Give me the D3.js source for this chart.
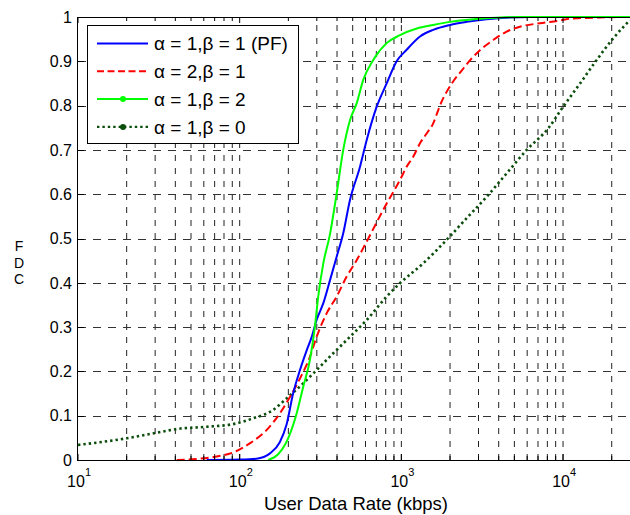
<!DOCTYPE html>
<html><head><meta charset="utf-8">
<script src="https://cdn.jsdelivr.net/npm/d3@7/dist/d3.min.js"></script>
<style>
body{margin:0;background:#fff}
svg{display:block}
text{font-family:Arial,"Liberation Sans",Helvetica,sans-serif;fill:#000}
</style>
</head><body>
<svg id="chart" width="630" height="515"></svg>
<script>
// ---- data ----
const seriesNames = ["α = 1,β = 1 (PF)", "α = 2,β = 1", "α = 1,β = 2", "α = 1,β = 0"];

const pfRate = [62.5, 100, 127, 154, 177, 195, 214, 236, 260, 279, 299, 329, 362, 398, 437, 481, 555, 610, 703, 811, 935, 1078, 1304, 1574, 2000, 2535, 3367, 4700, 6240, 26000];
const pfCdf  = [0, 0.001, 0.003, 0.015, 0.04, 0.08, 0.15, 0.203, 0.248, 0.278, 0.316, 0.354, 0.406, 0.459, 0.512, 0.587, 0.662, 0.722, 0.797, 0.850, 0.900, 0.926, 0.956, 0.971, 0.982, 0.989, 0.995, 0.999, 1, 1];

const a2b1Rate = [40.8, 56.8, 72, 91.3, 116, 147, 177, 205, 236, 272, 299, 345, 398, 459, 529, 610, 811, 980, 1078, 1186, 1304, 1433, 1574, 1691, 1774, 1906, 2096, 2361, 2656, 3062, 3700, 4478, 5410, 7190, 9570, 11040, 16900, 26000];
const a2b1Cdf  = [0, 0.003, 0.008, 0.017, 0.038, 0.068, 0.105, 0.143, 0.184, 0.233, 0.278, 0.331, 0.369, 0.414, 0.451, 0.493, 0.579, 0.632, 0.662, 0.685, 0.715, 0.737, 0.760, 0.790, 0.809, 0.831, 0.855, 0.879, 0.902, 0.925, 0.948, 0.967, 0.978, 0.986, 0.992, 0.996, 0.999, 1];

const a1b2Rate = [150, 173, 191, 200, 225, 247, 272, 292, 306, 329, 362, 398, 437, 481, 529, 581, 670, 811, 980, 1245, 1574, 2000, 2785, 4073, 5420, 26000];
const a1b2Cdf  = [0, 0.013, 0.035, 0.05, 0.105, 0.165, 0.226, 0.301, 0.369, 0.444, 0.51, 0.602, 0.700, 0.767, 0.805, 0.858, 0.903, 0.941, 0.959, 0.974, 0.982, 0.989, 0.995, 0.999, 1, 1];

const a1b0Rate = [10, 20, 29, 43, 62.5, 91, 121, 161, 195, 247, 299, 379, 481, 610, 811, 980, 1365, 1906, 2535, 3367, 4478, 5960, 8110, 10000, 12740, 16150, 20460, 25900];
const a1b0Cdf  = [0.034, 0.049, 0.060, 0.071, 0.075, 0.081, 0.094, 0.113, 0.139, 0.173, 0.203, 0.241, 0.278, 0.316, 0.369, 0.399, 0.444, 0.497, 0.546, 0.594, 0.647, 0.700, 0.749, 0.797, 0.850, 0.903, 0.952, 0.993];

const yTickValues = [0, 0.1, 0.2, 0.3, 0.4, 0.5, 0.6, 0.7, 0.8, 0.9, 1];
const yTickLabels = ["0", "0.1", "0.2", "0.3", "0.4", "0.5", "0.6", "0.7", "0.8", "0.9", "1"];
const xMajorTicks = [10, 100, 1000, 10000];
const xTickExponents = ["1", "2", "3", "4"];
const xLabel = "User Data Rate (kbps)";
const yLabelLetters = ["F", "D", "C"];

// ---- layout ----
const L = 78, R = 630, T = 17, B = 460;
const xMax = 25950;
const svg = d3.select("#chart");
const x = d3.scaleLog().domain([10, xMax]).range([L, R]);
const y = d3.scaleLinear().domain([0, 1]).range([B, T]);

// minor tick values
const minorVals = [];
xMajorTicks.forEach(d => { for (let k = 1; k <= 9; k++) { const v = k * d; if (v > 10 && v < xMax) minorVals.push(v); } });

// grid
const grid = svg.append("g");
grid.selectAll("line.vg").data(minorVals).join("line")
  .attr("x1", d => x(d)).attr("x2", d => x(d)).attr("y1", B).attr("y2", T)
  .attr("stroke", "#222").attr("stroke-width", 1).attr("stroke-dasharray", "6,7");
grid.selectAll("line.hg").data(yTickValues.filter(v => v > 0 && v < 1)).join("line")
  .attr("x1", L).attr("x2", R).attr("y1", d => Math.round(y(d)) + 0.5).attr("y2", d => Math.round(y(d)) + 0.5)
  .attr("stroke", "#333").attr("stroke-width", 1).attr("stroke-dasharray", "8,7");

// curves
svg.append("clipPath").attr("id", "pc").append("rect")
  .attr("x", L).attr("y", T - 2).attr("width", R - L).attr("height", B - T + 2);
const line = d3.line().x(d => x(d[0])).y(d => y(d[1])).curve(d3.curveMonotoneX);
const zipS = (a, b) => a.map((v, i) => [v, b[i]]);
const series = [
  {data: zipS(a1b0Rate, a1b0Cdf), color: "#0b4d0b", width: 2.6, dash: "2.4,3"},
  {data: zipS(a2b1Rate, a2b1Cdf), color: "#ff0000", width: 2, dash: "8,4"},
  {data: zipS(pfRate, pfCdf), color: "#0000ff", width: 2, dash: null},
  {data: zipS(a1b2Rate, a1b2Cdf), color: "#00ff00", width: 2, dash: null}
];
const cg = svg.append("g").attr("clip-path", "url(#pc)");
series.forEach(s => {
  cg.append("path").attr("d", line(s.data)).attr("fill", "none")
    .attr("stroke", s.color).attr("stroke-width", s.width)
    .attr("stroke-dasharray", s.dash);
});

// axes lines
const ax = svg.append("g");
ax.append("line").attr("x1", L - 0.5).attr("x2", R).attr("y1", B + 0.5).attr("y2", B + 0.5).attr("stroke", "#000");
ax.append("line").attr("x1", L - 0.5).attr("x2", R).attr("y1", T + 0.5).attr("y2", T + 0.5).attr("stroke", "#000");
ax.append("line").attr("x1", L - 0.5).attr("x2", L - 0.5).attr("y1", T).attr("y2", B + 1).attr("stroke", "#000");

// x ticks (bottom and top, inward)
const allX = minorVals.concat([10]);
ax.selectAll("line.bt").data(allX).join("line")
  .attr("x1", d => x(d)).attr("x2", d => x(d)).attr("y1", B).attr("y2", d => xMajorTicks.includes(d) ? B - 6 : B - 4)
  .attr("stroke", "#000");
ax.selectAll("line.tt").data(allX).join("line")
  .attr("x1", d => x(d)).attr("x2", d => x(d)).attr("y1", T).attr("y2", d => xMajorTicks.includes(d) ? T + 6 : T + 4)
  .attr("stroke", "#000");
// y ticks
ax.selectAll("line.yt").data(yTickValues).join("line")
  .attr("x1", L).attr("x2", L + 6).attr("y1", d => Math.round(y(d)) + 0.5).attr("y2", d => Math.round(y(d)) + 0.5)
  .attr("stroke", "#000");

// y tick labels
svg.append("g").selectAll("text").data(yTickValues).join("text")
  .attr("x", 72).attr("y", d => y(d)).attr("dy", "0.36em")
  .attr("text-anchor", "end").attr("font-size", 16)
  .text((d, i) => yTickLabels[i]);

// x tick labels: 10 with superscript
const xl = svg.append("g");
xMajorTicks.forEach((v, i) => {
  xl.append("text").attr("x", x(v) - 2).attr("y", 487).attr("text-anchor", "middle").attr("font-size", 16).text("10");
  xl.append("text").attr("x", x(v) + 7).attr("y", 476).attr("font-size", 11).text(xTickExponents[i]);
});

// axis labels
svg.append("text").attr("x", 356).attr("y", 510).attr("text-anchor", "middle").attr("font-size", 18.5).text(xLabel);
const yl = svg.append("text").attr("text-anchor", "middle").attr("font-size", 14);
yLabelLetters.forEach((c, i) => {
  yl.append("tspan").attr("x", 19).attr("y", 251 + i * 16.5).text(c);
});

// legend
const lg = svg.append("g");
lg.append("rect").attr("x", 87.5).attr("y", 25.5).attr("width", 211).attr("height", 118)
  .attr("fill", "#fff").attr("stroke", "#000").attr("stroke-width", 1);
const legendOrder = [
  {name: seriesNames[0], color: "#0000ff", width: 2, dash: null, marker: false},
  {name: seriesNames[1], color: "#ff0000", width: 2, dash: "7,3.5", marker: false},
  {name: seriesNames[2], color: "#00ff00", width: 2, dash: null, marker: true},
  {name: seriesNames[3], color: "#0b4d0b", width: 2.4, dash: "2.4,3", marker: true}
];
legendOrder.forEach((s, i) => {
  const cy = 43.5 + i * 27.8;
  lg.append("line").attr("x1", 97).attr("x2", 148).attr("y1", cy).attr("y2", cy)
    .attr("stroke", s.color).attr("stroke-width", s.width).attr("stroke-dasharray", s.dash);
  if (s.marker) lg.append("circle").attr("cx", 123).attr("cy", cy).attr("r", 3).attr("fill", s.color);
  lg.append("text").attr("x", 154).attr("y", cy).attr("dy", "0.36em").attr("font-size", 19).text(s.name);
});
</script>
</body></html>
